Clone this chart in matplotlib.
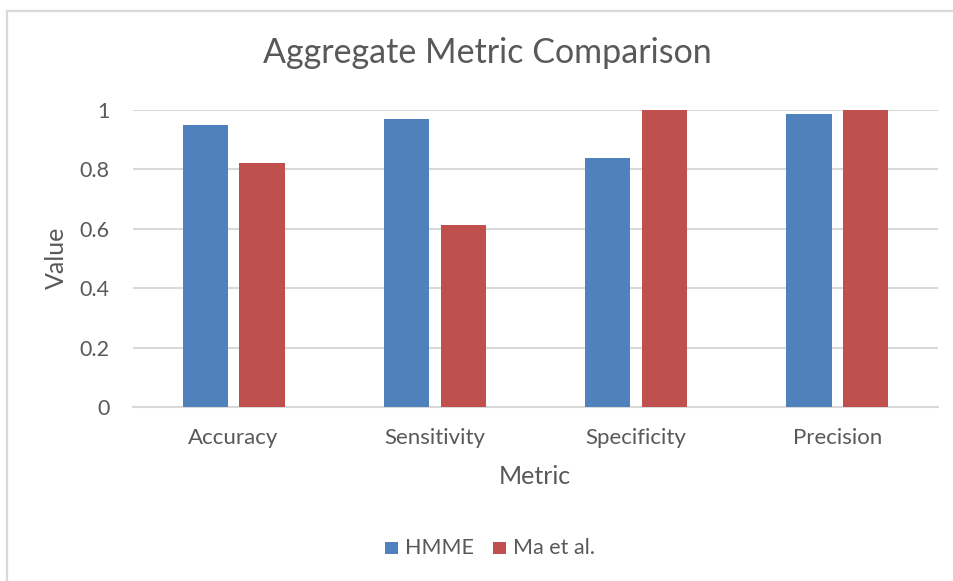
import matplotlib
matplotlib.use("Agg")
import matplotlib.pyplot as plt
import numpy as np
from matplotlib.patches import Rectangle

plt.rcParams["font.family"] = ["Lato", "DejaVu Sans"]

# data
metrics = ["Accuracy", "Sensitivity", "Specificity", "Precision"]
series_names = ["HMME", "Ma et al."]
hmme = [0.95, 0.97, 0.84, 0.985]
ma_et_al = [0.82, 0.613, 1.0, 1.0]
yticks = [0, 0.2, 0.4, 0.6, 0.8, 1]
ytick_labels = ["0", "0.2", "0.4", "0.6", "0.8", "1"]

C_BLUE = "#4f81bd"; C_RED = "#c0504d"; C_TXT = "#595959"; C_GRID = "#d9d9d9"
W, H = 954, 581

fig = plt.figure(figsize=(W / 100, H / 100), dpi=100)
fig.patch.set_facecolor("white")

# chart area border (cut off at right/bottom like the screenshot)
fig.patches.append(Rectangle((7 / W, -0.1), 1.2, 1 - 11 / H + 0.1, transform=fig.transFigure,
                             fill=False, ec=C_GRID, lw=1.6))

ax = fig.add_axes([133 / W, 1 - 407 / H, (938 - 133) / W, (407 - 110) / H])
x = np.arange(len(metrics))
bw = 0.224
ax.bar(x - 0.141, hmme, bw, color=C_BLUE, zorder=3, label=series_names[0])
ax.bar(x + 0.141, ma_et_al, bw, color=C_RED, zorder=3, label=series_names[1])

ax.set_xlim(-0.5, len(metrics) - 0.5)
ax.set_ylim(0, 1)
ax.set_yticks(yticks)
ax.set_yticklabels(ytick_labels)
ax.set_xticks(x)
ax.set_xticklabels(metrics)
ax.tick_params(axis="y", length=0, pad=17, labelsize=15.5, labelcolor=C_TXT)
ax.tick_params(axis="x", length=0, pad=15, labelsize=16, labelcolor=C_TXT)
ax.yaxis.grid(True, color=C_GRID, lw=1.5, zorder=0)
for s in ["top", "right", "left"]:
    ax.spines[s].set_visible(False)
ax.spines["bottom"].set_color(C_GRID)
ax.spines["bottom"].set_linewidth(1.5)

fig.text(487 / W, 1 - 53 / H, "Aggregate Metric Comparison", ha="center", va="center",
         fontsize=24.5, color=C_TXT)
fig.text(56 / W, 1 - 258 / H, "Value", ha="center", va="center", rotation=90,
         fontsize=18, color=C_TXT)
fig.text(535 / W, 1 - 476 / H, "Metric", ha="center", va="center", fontsize=18, color=C_TXT)

# legend
for (sx, tx), name, col in zip([(385, 405), (493, 513)], series_names, [C_BLUE, C_RED]):
    fig.patches.append(Rectangle((sx / W, 1 - 554 / H), 13 / W, 12 / H,
                                 transform=fig.transFigure, fc=col, ec="none"))
    fig.text(tx / W, 1 - 548 / H, name, ha="left", va="center", fontsize=15.5, color=C_TXT)

fig.savefig("out.png", dpi=100, facecolor="white")
